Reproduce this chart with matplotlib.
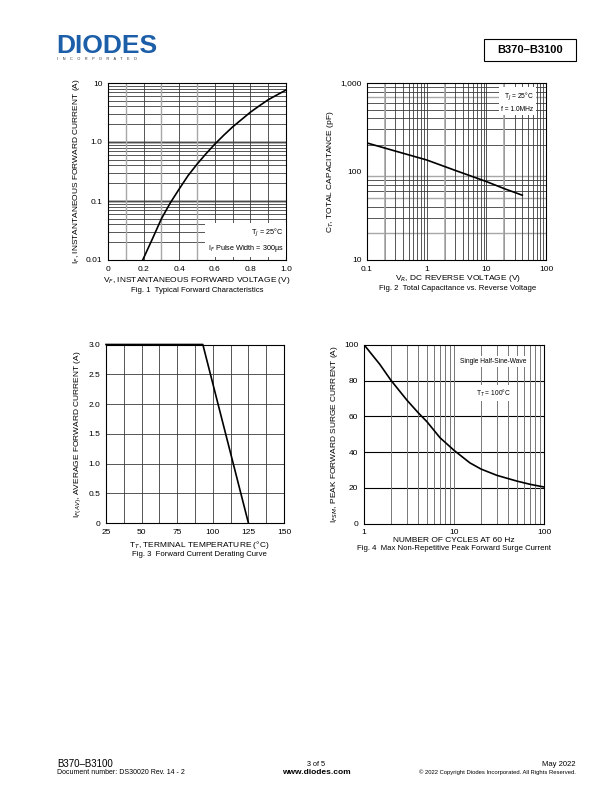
import numpy as np
import matplotlib
matplotlib.use("Agg")
import matplotlib.pyplot as plt
from matplotlib.patches import Rectangle

plt.rcParams['font.family'] = ['Liberation Sans', 'DejaVu Sans']

# Fig. 1 - forward characteristics
vf = [0.195, 0.25, 0.3, 0.35, 0.4, 0.45, 0.5, 0.55, 0.6, 0.65, 0.7, 0.75, 0.8, 0.85, 0.9, 0.95, 1.0]
i_f = [0.01, 0.023, 0.05, 0.093, 0.16, 0.27, 0.42, 0.63, 0.92, 1.3, 1.8, 2.4, 3.2, 4.1, 5.2, 6.3, 7.6]

# Fig. 2 - capacitance vs reverse voltage
vr = [0.1, 0.3, 1, 3, 10, 20, 40]
ct = [210, 170, 135, 103, 77, 64, 54]

# Fig. 3 - derating curve
tt = [25, 93, 125]
i_av = [3.0, 3.0, 0.0]

# Fig. 4 - surge current
cycles = [1, 1.5, 2, 3, 4, 5, 7, 10, 15, 20, 30, 50, 70, 100]
i_fsm = [100, 89, 80, 69, 62, 57, 48, 41, 34, 30.5, 27, 23.8, 22, 20.5]

GRID = '#3a3a3a'
LIGHT = '#a8a8a8'
FS = 6

fig = plt.figure(figsize=(6.12, 7.92), dpi=100)


def px_axes(x0, y0, x1, y1):
    # pixel box -> figure fraction
    return fig.add_axes([x0 / 612, 1 - y1 / 792, (x1 - x0) / 612, (y1 - y0) / 792])


def ptext(x, y, s, **kw):
    # text placed in pixel coords from top-left
    return fig.text(x / 612, 1 - y / 792, s, **kw)


def style(ax):
    ax.tick_params(length=0, labelsize=FS, pad=4)
    for s in ax.spines.values():
        s.set_linewidth(0.8)
        s.set_color('black')
        s.set_zorder(5)


def hline(ax, ys, c=GRID, lw=0.6):
    for y in ys:
        ax.axhline(y, color=c, lw=lw, zorder=1)


def vline(ax, xs, c=GRID, lw=0.6):
    for x in xs:
        ax.axvline(x, color=c, lw=lw, zorder=1)


# ---------------- Fig. 1
ax1 = px_axes(108, 83, 286, 260)
ax1.set_yscale('log')
ax1.set_xlim(0, 1.0)
ax1.set_ylim(0.01, 10)
for dec in [0.01, 0.1, 1]:
    hline(ax1, [dec * k for k in range(2, 10)])
hline(ax1, [0.1, 1.0], c=LIGHT, lw=2.0)
hline(ax1, [0.1, 1.0])
vline(ax1, [0.2, 0.4, 0.6, 0.8])
vline(ax1, [0.1, 0.3, 0.5], c=LIGHT, lw=1.0)
vline(ax1, [0.7, 0.9])
ax1.plot(vf, i_f, color='black', lw=1.2, zorder=4)
ax1.set_xticks([0, 0.2, 0.4, 0.6, 0.8, 1.0])
ax1.set_xticklabels(['0', '0.2', '0.4', '0.6', '0.8', '1.0'])
ax1.set_yticks([0.01, 0.1, 1, 10])
ax1.set_yticklabels(['0.01', '0.1', '1.0', '10'])
ax1.yaxis.set_minor_locator(matplotlib.ticker.NullLocator())
style(ax1)
ax1.text(0.985, 0.035, 'T$_J$ = 25°C\nI$_F$ Pulse Width = 300µs', transform=ax1.transAxes,
         ha='right', va='bottom', fontsize=5.2, linespacing=1.6, zorder=6,
         bbox=dict(fc='white', ec='none', pad=2))
ax1.set_ylabel('I$_F$, INSTANTANEOUS FORWARD CURRENT (A)', fontsize=FS, labelpad=3)
ptext(197, 280, 'V$_F$, INSTANTANEOUS FORWARD VOLTAGE (V)', ha='center', va='center', fontsize=FS)
ptext(197, 290, 'Fig. 1  Typical Forward Characteristics', ha='center', va='center', fontsize=5.6)

# ---------------- Fig. 2
ax2 = px_axes(367, 83, 546, 260)
ax2.set_xscale('log')
ax2.set_yscale('log')
ax2.set_xlim(0.1, 100)
ax2.set_ylim(10, 1000)
for dec in [10, 100]:
    hline(ax2, [dec * k for k in range(2, 10)])
hline(ax2, [20, 50, 90, 700], c=LIGHT, lw=1.0)
for dec in [0.1, 1, 10]:
    vline(ax2, [dec * k for k in range(2, 10)])
vline(ax2, [1, 10])
vline(ax2, [0.2, 2, 20], c=LIGHT, lw=1.2)
ax2.plot(vr, ct, color='black', lw=1.2, zorder=4)
ax2.set_xticks([0.1, 1, 10, 100])
ax2.set_xticklabels(['0.1', '1', '10', '100'])
ax2.set_yticks([10, 100, 1000])
ax2.set_yticklabels(['10', '100', '1,000'])
ax2.xaxis.set_minor_locator(matplotlib.ticker.NullLocator())
ax2.yaxis.set_minor_locator(matplotlib.ticker.NullLocator())
style(ax2)
ax2.text(0.93, 0.955, 'T$_J$ = 25°C\nf = 1.0MHz', transform=ax2.transAxes,
         ha='right', va='top', fontsize=4.8, linespacing=1.5, zorder=6,
         bbox=dict(fc='white', ec='none', pad=1.5))
ax2.set_ylabel('C$_T$, TOTAL CAPACITANCE (pF)', fontsize=FS, labelpad=3)
ptext(458, 279, 'V$_R$, DC REVERSE VOLTAGE (V)', ha='center', va='center', fontsize=FS)
ptext(458, 289, 'Fig. 2  Total Capacitance vs. Reverse Voltage', ha='center', va='center', fontsize=5.6)

# ---------------- Fig. 3
ax3 = px_axes(106, 344.5, 284, 523)
ax3.set_xlim(25, 150)
ax3.set_ylim(0, 3.0)
hline(ax3, np.arange(0.5, 3.0, 0.5))
vline(ax3, np.arange(37.5, 150, 12.5))
ax3.plot(tt, i_av, color='black', lw=1.2, zorder=4, clip_on=False)
ax3.set_xticks([25, 50, 75, 100, 125, 150])
ax3.set_yticks([0, 0.5, 1.0, 1.5, 2.0, 2.5, 3.0])
ax3.set_yticklabels(['0', '0.5', '1.0', '1.5', '2.0', '2.5', '3.0'])
style(ax3)
ax3.set_ylabel('I$_{F(AV)}$, AVERAGE FORWARD CURRENT (A)', fontsize=FS, labelpad=3)
ptext(199, 545, 'T$_T$, TERMINAL TEMPERATURE (°C)', ha='center', va='center', fontsize=FS)
ptext(199, 555, 'Fig. 3  Forward Current Derating Curve', ha='center', va='center', fontsize=5.6)

# ---------------- Fig. 4
ax4 = px_axes(364, 344.7, 544, 523.7)
ax4.set_xscale('log')
ax4.set_xlim(1, 100)
ax4.set_ylim(0, 100)
hline(ax4, [20, 40, 60, 80], c='black', lw=0.8)
for dec in [1, 10]:
    vline(ax4, [dec * k for k in range(2, 10)], c='#777777', lw=0.7)
vline(ax4, [10], c='#777777', lw=0.7)
ax4.plot(cycles, i_fsm, color='black', lw=1.2, zorder=4)
ax4.set_xticks([1, 10, 100])
ax4.set_xticklabels(['1', '10', '100'])
ax4.xaxis.set_minor_locator(matplotlib.ticker.NullLocator())
ax4.set_yticks([0, 20, 40, 60, 80, 100])
style(ax4)
ax4.text(0.72, 0.905, 'Single Half-Sine-Wave', transform=ax4.transAxes,
         ha='center', va='center', fontsize=4.8, zorder=6,
         bbox=dict(fc='white', ec='none', pad=1.5))
ax4.text(0.72, 0.73, 'T$_T$ = 100°C', transform=ax4.transAxes,
         ha='center', va='center', fontsize=4.8, zorder=6,
         bbox=dict(fc='white', ec='none', pad=1.5))
ax4.set_ylabel('I$_{FSM}$, PEAK FORWARD SURGE CURRENT (A)', fontsize=FS, labelpad=3)
ptext(454, 540, 'NUMBER OF CYCLES AT 60 Hz', ha='center', va='center', fontsize=FS)
ptext(454, 549, 'Fig. 4  Max Non-Repetitive Peak Forward Surge Current', ha='center', va='center',
      fontsize=5.6)

# ---------------- header
blue = '#1c5ea8'
ptext(56, 46, 'DIODES', ha='left', va='center', fontsize=19, fontweight='bold', color=blue)
for yy in [40, 45, 50]:
    fig.add_artist(plt.Line2D([56 / 612, 160 / 612], [1 - yy / 792, 1 - yy / 792],
                              color='white', lw=0.6))
ptext(57, 59, 'I    N    C    O    R    P    O    R    A    T    E    D', ha='left', va='center',
      fontsize=2.8, color='#333333')
fig.add_artist(Rectangle((484 / 612, 1 - 61 / 792), 92 / 612, 22 / 792, transform=fig.transFigure,
                         fill=False, ec='black', lw=0.8))
ptext(530, 50, 'B370–B3100', ha='center', va='center', fontsize=8, fontweight='bold')

# ---------------- footer
ptext(57, 764, 'B370–B3100', ha='left', va='center', fontsize=7)
ptext(57, 773, 'Document number: DS30020 Rev. 14 - 2', ha='left', va='center', fontsize=5)
ptext(316, 764, '3 of 5', ha='center', va='center', fontsize=5.2)
ptext(316, 773, 'www.diodes.com', ha='center', va='center', fontsize=6, fontweight='bold')
ptext(576, 764, 'May 2022', ha='right', va='center', fontsize=5.5)
ptext(576, 772, '© 2022 Copyright Diodes Incorporated. All Rights Reserved.', ha='right',
      va='center', fontsize=4.2)

fig.savefig('out.png', dpi=100)
